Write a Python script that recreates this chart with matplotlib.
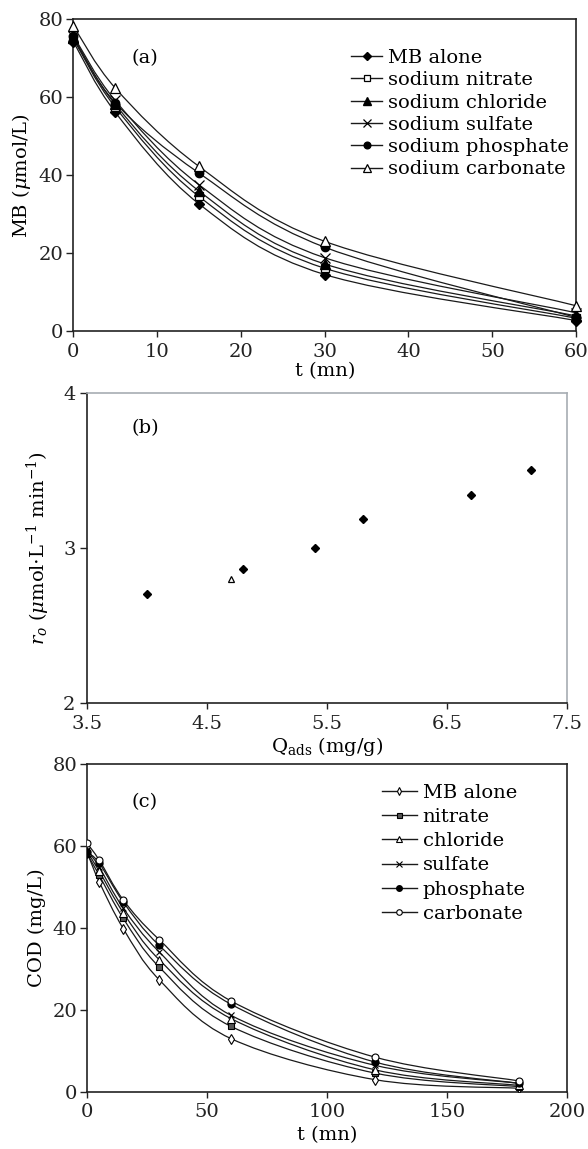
import numpy as np
import matplotlib
matplotlib.use('Agg')
import matplotlib.pyplot as plt
from matplotlib.path import Path
from matplotlib.patches import PathPatch
from matplotlib.lines import Line2D

plt.rcParams['font.family'] = ['DejaVu Serif']
plt.rcParams['mathtext.fontset'] = 'dejavuserif'
plt.rcParams['font.size'] = 14

# (a) MB concentration vs time, with and without salts
t_a = [0, 5, 15, 30, 60]
mb_alone = [74.3, 56.2, 32.7, 14.6, 2.8]
mb_nitrate = [75.0, 57.5, 34.6, 16.2, 3.4]
mb_chloride = [75.3, 58.2, 36.0, 17.3, 4.0]
mb_sulfate = [75.8, 59.2, 37.6, 18.9, 4.8]
mb_phosphate = [75.6, 58.6, 40.6, 21.6, 3.6]
mb_carbonate = [78.3, 62.4, 42.3, 23.1, 6.6]
labels_a = ['MB alone', 'sodium nitrate', 'sodium chloride',
            'sodium sulfate', 'sodium phosphate', 'sodium carbonate']

# (b) initial rate vs adsorbed amount
q_ads = [4.0, 4.8, 5.4, 5.8, 6.7, 7.2]
r_o = [2.70, 2.865, 3.0, 3.185, 3.344, 3.503]
q_ads_carb = [4.7]
r_o_carb = [2.80]

# (c) COD vs time
t_c = [0, 5, 15, 30, 60, 120, 180]
cod_alone = [58.3, 51.2, 39.8, 27.3, 12.9, 2.9, 0.8]
cod_nitrate = [58.0, 52.8, 42.3, 30.4, 15.9, 4.5, 1.2]
cod_chloride = [58.5, 53.8, 43.7, 32.2, 17.8, 5.3, 1.5]
cod_sulfate = [59.0, 54.8, 44.8, 34.1, 18.6, 6.4, 2.0]
cod_phosphate = [58.5, 55.8, 46.3, 35.7, 21.3, 7.2, 2.0]
cod_carbonate = [60.6, 56.5, 46.8, 37.1, 22.1, 8.4, 2.6]
labels_c = ['MB alone', 'nitrate', 'chloride', 'sulfate', 'phosphate', 'carbonate']


def smooth_path(x, y):
    # excel-like smoothed line: cubic bezier through every point
    p = np.column_stack([x, y]).astype(float)
    pts = [p[0]]
    codes = [Path.MOVETO]
    n = len(p)
    for i in range(n - 1):
        p0 = p[max(i - 1, 0)]
        p1 = p[i]
        p2 = p[i + 1]
        p3 = p[min(i + 2, n - 1)]
        c1 = p1 + (p2 - p0) / 6.0
        c2 = p2 - (p3 - p1) / 6.0
        pts += [c1, c2, p2]
        codes += [Path.CURVE4] * 3
    return Path(pts, codes)


def style_axes(ax):
    for s in ax.spines.values():
        s.set_linewidth(1.2)
        s.set_color('#222222')
    ax.tick_params(axis='x', direction='out', length=4, width=1, pad=4,
                   labelsize=14, colors='#222222')
    ax.tick_params(axis='y', direction='out', length=5, width=1, pad=2,
                   labelsize=14, colors='#222222')


def legend_handles(marks, labels):
    hs = []
    for mk, lab in zip(marks, labels):
        m = dict(mk)
        m['ms'] = m['ms'] * 0.8
        hs.append(Line2D([], [], color='#1a1a1a', lw=1.0, label=lab, **m))
    return hs


fig = plt.figure(figsize=(5.88, 11.49), dpi=100)

# ---------- (a) ----------
ax1 = fig.add_axes([0.1247, 0.7115, 0.855, 0.2717])
series_a = [mb_alone, mb_nitrate, mb_chloride, mb_sulfate, mb_phosphate, mb_carbonate]
marks_a = [
    dict(marker='D', ms=5, mfc='k', mec='k'),
    dict(marker='s', ms=5.5, mfc='white', mec='k', mew=0.9),
    dict(marker='^', ms=6.5, mfc='k', mec='k'),
    dict(marker='x', ms=6.5, mec='k', mew=0.9),
    dict(marker='o', ms=6, mfc='k', mec='k'),
    dict(marker='^', ms=6.5, mfc='white', mec='k', mew=0.9),
]
for ys in series_a:
    ax1.add_patch(PathPatch(smooth_path(t_a, ys), fill=False, ec='#1a1a1a', lw=0.9))
for ys, mk in zip(series_a, marks_a):
    ax1.plot(t_a, ys, ls='none', clip_on=False, zorder=3, **mk)
ax1.set_xlim(0, 60)
ax1.set_ylim(0, 80)
ax1.set_xticks(range(0, 61, 10))
ax1.set_yticks(range(0, 81, 20))
ax1.set_xlabel('t (mn)', labelpad=1)
ax1.set_ylabel(r'MB ($\mu$mol/L)', labelpad=4)
ax1.text(0.143, 0.876, '(a)', transform=ax1.transAxes, ha='center', va='center')
ax1.legend(handles=legend_handles(marks_a, labels_a), loc='upper left',
           bbox_to_anchor=(0.553, 0.905), frameon=False, borderpad=0,
           borderaxespad=0, handlelength=1.6, handletextpad=0.3,
           labelspacing=0.22, fontsize=14)
style_axes(ax1)

# ---------- (b) ----------
ax2 = fig.add_axes([0.1474, 0.3882, 0.8173, 0.2698])
ax2.plot(q_ads, r_o, ls='none', marker='D', ms=4.3, mfc='k', mec='k')
ax2.plot(q_ads_carb, r_o_carb, ls='none', marker='^', ms=4.5, mfc='white', mec='k', mew=0.9)
ax2.set_xlim(3.5, 7.5)
ax2.set_ylim(2, 4)
ax2.set_xticks([3.5, 4.5, 5.5, 6.5, 7.5])
ax2.set_yticks([2, 3, 4])
ax2.set_xlabel(r'Q$_{\mathrm{ads}}$ (mg/g)', labelpad=1)
ax2.set_ylabel(r'$r_o$ ($\mu$mol$\cdot$L$^{-1}$ min$^{-1}$)', labelpad=8)
ax2.text(0.121, 0.887, '(b)', transform=ax2.transAxes, ha='center', va='center')
style_axes(ax2)
ax2.tick_params(axis='x', pad=5)
ax2.tick_params(axis='y', pad=3)
ax2.spines['top'].set_color('#a7adb3')
ax2.spines['right'].set_color('#a7adb3')

# ---------- (c) ----------
ax3 = fig.add_axes([0.1485, 0.0500, 0.8158, 0.2850])
series_c = [cod_alone, cod_nitrate, cod_chloride, cod_sulfate, cod_phosphate, cod_carbonate]
marks_c = [
    dict(marker='d', ms=5, mfc='white', mec='k', mew=0.8),
    dict(marker='s', ms=4.5, mfc='#555555', mec='k', mew=0.8),
    dict(marker='^', ms=5.5, mfc='white', mec='k', mew=0.8),
    dict(marker='x', ms=5, mec='k', mew=0.8),
    dict(marker='o', ms=5, mfc='k', mec='k'),
    dict(marker='o', ms=5, mfc='white', mec='k', mew=0.8),
]
for ys in series_c:
    ax3.add_patch(PathPatch(smooth_path(t_c, ys), fill=False, ec='#1a1a1a', lw=0.9))
for ys, mk in zip(series_c, marks_c):
    ax3.plot(t_c, ys, ls='none', zorder=3, **mk)
ax3.set_xlim(0, 200)
ax3.set_ylim(0, 80)
ax3.set_xticks([0, 50, 100, 150, 200])
ax3.set_yticks(range(0, 81, 20))
ax3.set_xlabel('t (mn)', labelpad=4)
ax3.set_ylabel('COD (mg/L)', labelpad=5)
ax3.text(0.12, 0.885, '(c)', transform=ax3.transAxes, ha='center', va='center')
ax3.legend(handles=legend_handles(marks_c, labels_c), loc='upper left',
           bbox_to_anchor=(0.614, 0.94), frameon=False, borderpad=0,
           borderaxespad=0, handlelength=1.8, handletextpad=0.3,
           labelspacing=0.32, fontsize=14)
style_axes(ax3)

fig.savefig('out.png', dpi=100)
